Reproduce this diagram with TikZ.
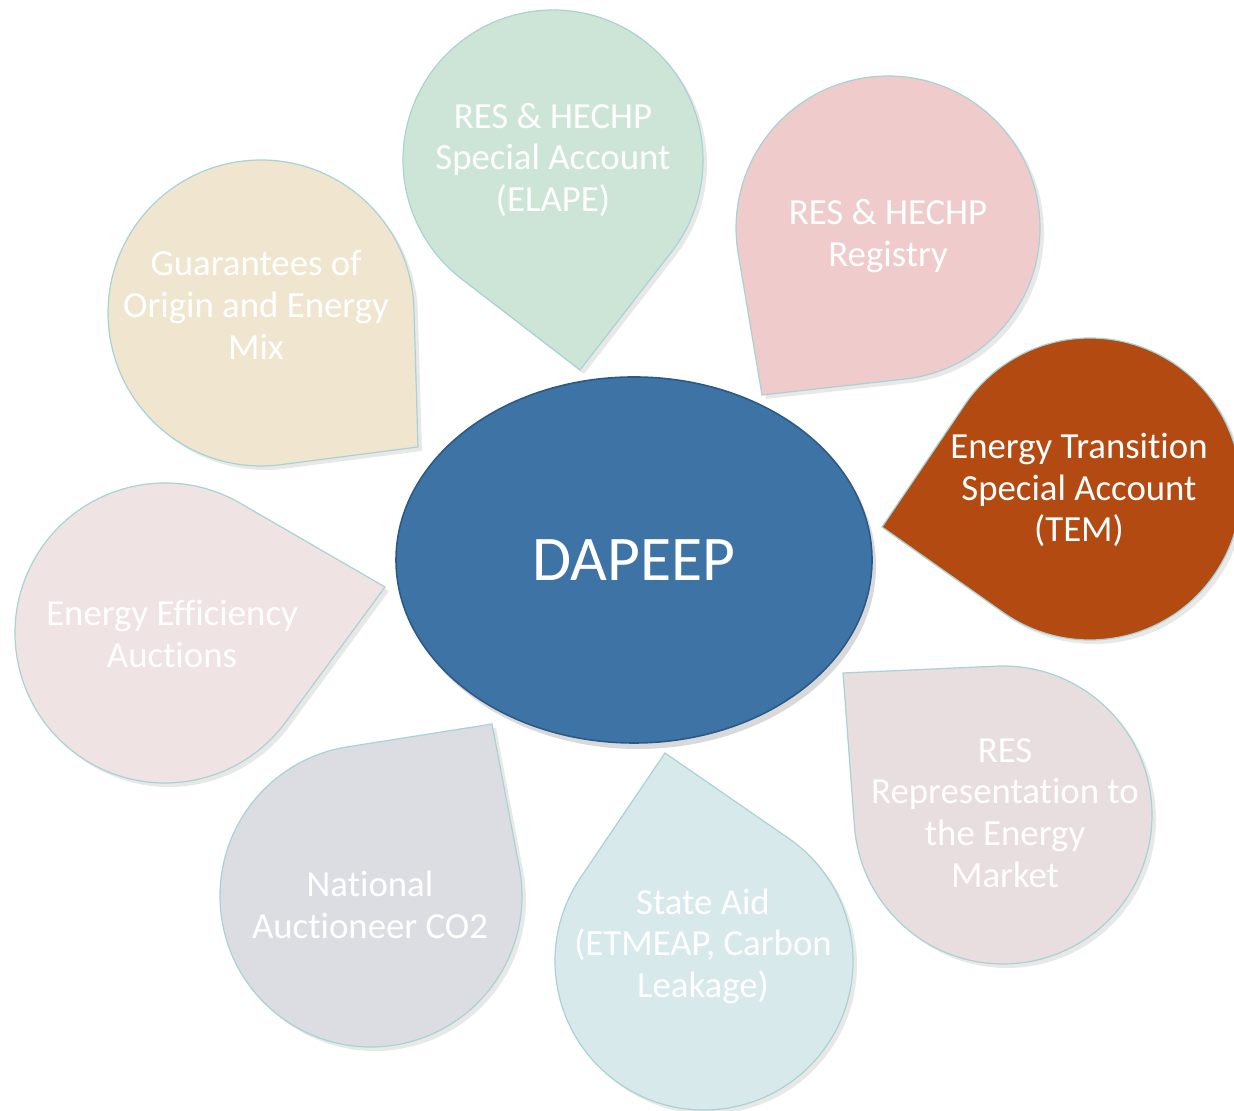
\documentclass[tikz,border=0pt]{standalone}
\usepackage{fontspec}
\setmainfont[RawFeature={-liga;-clig;-calt;-dlig}]{Carlito}
\usepackage{tikz}
\usetikzlibrary{calc,shadows,shapes.geometric}

\definecolor{hubblue}{HTML}{3E73A5}
\definecolor{hubedge}{HTML}{2C5A86}
\definecolor{elapegreen}{HTML}{CDE5D7}
\definecolor{registrypink}{HTML}{EFCBCB}
\definecolor{temorange}{HTML}{B34A12}
\definecolor{reprose}{HTML}{E8DDDF}
\definecolor{aidblue}{HTML}{D7E9EB}
\definecolor{auctiongrey}{HTML}{DCDDE2}
\definecolor{effpink}{HTML}{F0E3E3}
\definecolor{origincream}{HTML}{F0E6CF}
\definecolor{dropedge}{HTML}{A9D2D4}

\tikzset{
  teardrop/.style={fill=#1, draw=dropedge, line width=0.6pt,
    drop shadow={opacity=0.18, shadow xshift=2pt, shadow yshift=-2pt}},
  droptext/.style={text=white, align=center, inner sep=0pt,
    font=\fontsize{18.4}{20.8}\selectfont},
  hub/.style={ellipse, fill=hubblue, draw=hubedge, line width=0.8pt, inner sep=0pt,
    minimum width=238pt, minimum height=183pt, text=white,
    font=\fontsize{31.8}{38}\selectfont,
    drop shadow={opacity=0.3, shadow xshift=2pt, shadow yshift=-3pt}},
}

% teardrop: circle centre (#1,#2), radius #3, tip at (#4,#5), colour #6
\newcommand{\tdrop}[6]{%
  \pgfmathsetmacro{\ddx}{#4-#1}
  \pgfmathsetmacro{\ddy}{#5-#2}
  \pgfmathsetmacro{\dang}{atan2(\ddy,\ddx)}
  \pgfmathsetmacro{\dhalf}{acos(#3/veclen(\ddx,\ddy))}
  \pgfmathsetmacro{\dstart}{\dang+\dhalf}
  \pgfmathsetmacro{\dend}{\dang-\dhalf+360}
  \draw[teardrop=#6] (#4,#5) -- ($(#1,#2)+(\dstart:#3)$)
    arc[start angle=\dstart, end angle=\dend, radius=#3] -- cycle;
}

\begin{document}
\begin{tikzpicture}[x=0.5pt, y=0.5pt]
  \useasboundingbox (0,0) rectangle (1234,1111);

  % Draw the eight teardrops
  \tdrop{553}{951}{150}{580}{741}{elapegreen}
  \tdrop{888}{883}{152}{762}{716}{registrypink}
  \tdrop{1090}{622}{151}{882}{584}{temorange}
  \tdrop{1003}{296}{149}{843}{438}{reprose}
  \tdrop{704}{150}{149}{665}{358}{aidblue}
  \tdrop{371}{215}{151}{492}{387}{auctiongrey}
  \tdrop{165}{478}{150}{385}{524}{effpink}
  \tdrop{261}{798}{153}{418}{664}{origincream}

  % Add text in the teardrops
  \node[droptext] (elape) at (553,951) {RES \& HECHP\\Special Account\\(ELAPE)};
  \node[droptext] (registry) at (888,875) {RES \& HECHP\\Registry};
  \node[droptext] (tem) at (1079,621) {Energy Transition\\Special Account\\(TEM)};
  \node[droptext] (representation) at (1005,298) {RES\\Representation to\\the Energy\\Market};
  \node[droptext] (stateaid) at (703,165) {State Aid\\(ETMEAP, Carbon\\Leakage)};
  \node[droptext] (auctioneer) at (370,206) {National\\Auctioneer CO2};
  \node[droptext] (efficiency) at (172,477) {Energy Efficiency\\Auctions};
  \node[droptext] (origin) at (256,806) {Guarantees of\\Origin and Energy\\Mix};

  % Draw the centre
  \node[hub] (dapeep) at (634,551) {DAPEEP};
\end{tikzpicture}
\end{document}
